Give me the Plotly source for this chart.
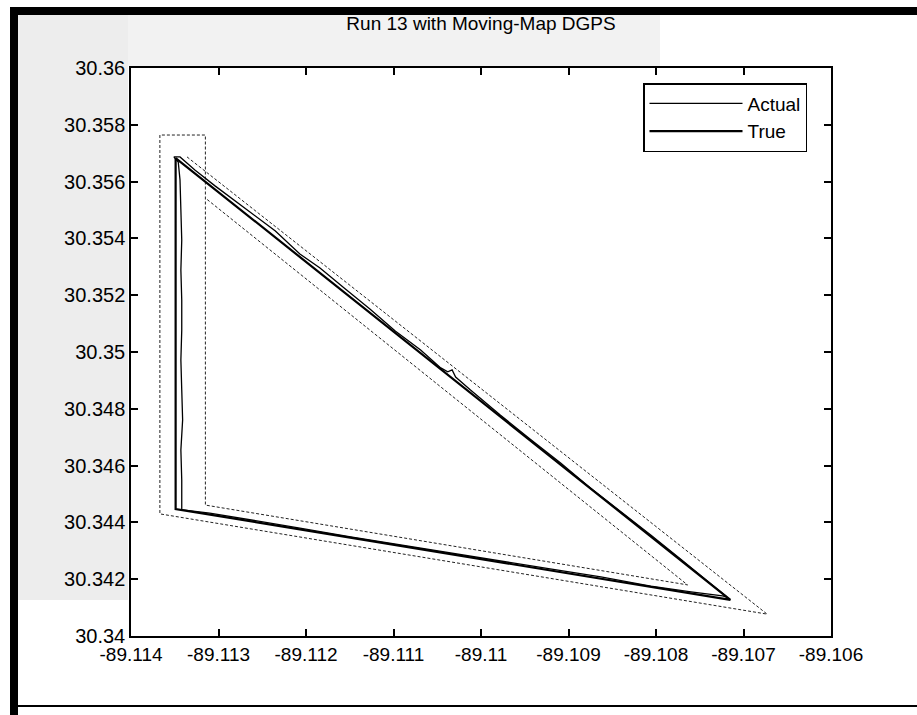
import plotly.graph_objects as go

title_text = "Run 13 with Moving-Map DGPS"

# True (planned) route
true_lon = [-89.11349, -89.11349, -89.10715, -89.11349]
true_lat = [30.35683, 30.34447, 30.34127, 30.35683]

# Actual flown track
actual_lon = [-89.11342, -89.11342, -89.11343, -89.11341, -89.11342, -89.11343, -89.11342,
              -89.11342, -89.11343, -89.11342, -89.11343, -89.11344, -89.11346, -89.11351,
              -89.11344, -89.11327, -89.11304, -89.11281, -89.11258, -89.11235, -89.11207,
              -89.11184, -89.11155, -89.11127, -89.11098, -89.11069, -89.11046, -89.11038,
              -89.11033, -89.11029, -89.11012, -89.10978, -89.10944, -89.10909, -89.10875,
              -89.10841, -89.10806, -89.10772, -89.10743, -89.10719,
              -89.10724, -89.10760, -89.10806, -89.10863, -89.10921, -89.10978, -89.11035,
              -89.11092, -89.11149, -89.11207, -89.11264, -89.11310, -89.11341]
actual_lat = [30.34444, 30.34549, 30.34655, 30.34761, 30.34866, 30.34972, 30.35077,
              30.35183, 30.35289, 30.35394, 30.35500, 30.35606, 30.35669, 30.35687,
              30.35687, 30.35641, 30.35585, 30.35532, 30.35479, 30.35426, 30.35345,
              30.35296, 30.35222, 30.35151, 30.35074, 30.35007, 30.34944, 30.34930,
              30.34937, 30.34912, 30.34866, 30.34778, 30.34694, 30.34609, 30.34521,
              30.34440, 30.34356, 30.34271, 30.34197, 30.34137,
              30.34141, 30.34155, 30.34176, 30.34208, 30.34236, 30.34264, 30.34292,
              30.34320, 30.34349, 30.34380, 30.34408, 30.34433, 30.34444]

# Corridor boundaries
corridor_lon = [-89.11336, -89.10673, -89.11367, -89.11367, -89.11315, -89.11315, -89.10764, -89.11315]
corridor_lat = [30.35687, 30.34077, 30.34430, 30.35764, 30.35764, 30.34461, 30.34180, 30.35542]

x_tick_vals = [-89.114, -89.113, -89.112, -89.111, -89.110, -89.109, -89.108, -89.107, -89.106]
x_tick_text = ["-89.114", "-89.113", "-89.112", "-89.111", "-89.11", "-89.109", "-89.108", "-89.107", "-89.106"]
y_tick_vals = [30.34, 30.342, 30.344, 30.346, 30.348, 30.35, 30.352, 30.354, 30.356, 30.358, 30.36]
y_tick_text = ["30.34", "30.342", "30.344", "30.346", "30.348", "30.35", "30.352", "30.354", "30.356", "30.358", "30.36"]

FONT = "Liberation Sans, Arial, sans-serif"

fig = go.Figure()
fig.add_trace(go.Scatter(x=corridor_lon, y=corridor_lat, mode="lines", showlegend=False,
                         line=dict(color="#222", width=1, dash="3px,2px"), hoverinfo="skip"))
fig.add_trace(go.Scatter(x=actual_lon, y=actual_lat, mode="lines", name="Actual",
                         line=dict(color="black", width=1.3)))
fig.add_trace(go.Scatter(x=true_lon, y=true_lat, mode="lines", name="True",
                         line=dict(color="black", width=2.2)))

W, H = 917, 715
L, R, T, B = 131, 86, 68, 79
pw, ph = W - L - R, H - T - B

def px(x):
    return (x - L) / pw

def py(y):
    return (H - B - y) / ph

shapes = [
    # speckled scan background approximations
    dict(type="rect", xref="paper", yref="paper", x0=px(18), x1=px(128), y0=py(600), y1=py(15),
         fillcolor="rgba(0,0,0,0.07)", line=dict(width=0), layer="below"),
    dict(type="rect", xref="paper", yref="paper", x0=px(128), x1=px(660), y0=py(66), y1=py(15),
         fillcolor="rgba(0,0,0,0.05)", line=dict(width=0), layer="below"),
    # scan frame
    dict(type="rect", xref="paper", yref="paper", x0=px(10), x1=px(18), y0=py(715), y1=py(7),
         fillcolor="black", line=dict(width=0)),
    dict(type="rect", xref="paper", yref="paper", x0=px(10), x1=px(917), y0=py(15), y1=py(7),
         fillcolor="black", line=dict(width=0)),
    dict(type="line", xref="paper", yref="paper", x0=px(10), x1=px(917), y0=py(706), y1=py(706),
         line=dict(color="black", width=2)),
]

fig.update_layout(
    width=W, height=H,
    margin=dict(l=L, r=R, t=T, b=B),
    paper_bgcolor="white", plot_bgcolor="white",
    font=dict(family=FONT, size=20, color="black"),
    title=dict(text=title_text, x=0.5, xref="paper", xanchor="center",
               y=1 - 23 / H, yref="container", yanchor="middle",
               font=dict(family=FONT, size=19, color="black")),
    xaxis=dict(range=[-89.114, -89.106], tickvals=x_tick_vals, ticktext=x_tick_text,
               showgrid=False, zeroline=False, showline=True, linecolor="black", linewidth=1.5,
               mirror="allticks", ticks="inside", ticklen=7, tickcolor="black", tickwidth=1.5,
               tickfont=dict(size=19)),
    yaxis=dict(range=[30.34, 30.36], tickvals=y_tick_vals, ticktext=y_tick_text,
               showgrid=False, zeroline=False, showline=True, linecolor="black", linewidth=1.5,
               mirror="allticks", ticks="inside", ticklen=7, tickcolor="black", tickwidth=1.5,
               tickfont=dict(size=20)),
    legend=dict(x=px(643), y=py(83), xanchor="left", yanchor="top",
                bgcolor="white", bordercolor="black", borderwidth=1.5,
                font=dict(family=FONT, size=19, color="black"), itemwidth=93,
                tracegroupgap=0),
    shapes=shapes,
    showlegend=True,
)

fig.write_html("out.html", config={"displayModeBar": False},
               post_script="document.body.style.margin='0';document.body.style.overflow='hidden';")
